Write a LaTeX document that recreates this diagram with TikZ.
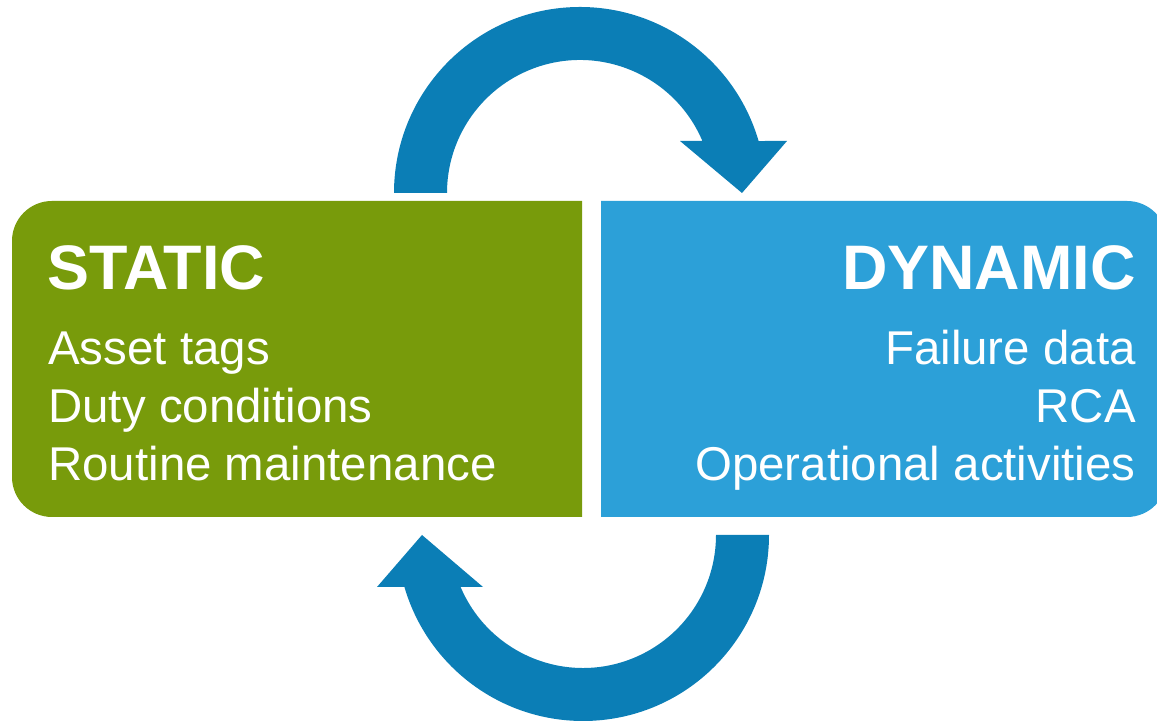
\documentclass[tikz,border=0pt]{standalone}
\usepackage{fontspec}
\setmainfont{Liberation Sans}
\usepackage{tikz}
\definecolor{staticgreen}{RGB}{120,155,11}
\definecolor{dynamicblue}{RGB}{44,160,216}
\definecolor{cycleblue}{RGB}{11,126,182}
\tikzset{
	title/.style={text=white, inner sep=0pt, font=\bfseries\fontsize{35.8}{41}\selectfont},
	item/.style={text=white, inner sep=0pt, font=\fontsize{27}{33}\selectfont}
}

\begin{document}
\begin{tikzpicture}[x=0.02cm, y=0.02cm]
	\def\outerR{186}
	\def\innerR{133}
	\clip (0, 0) rectangle (1157, 722);
	\useasboundingbox (0, 0) rectangle (1157, 722);
	% boxes
	\fill[staticgreen] (582, 205) [rounded corners=0.8cm] -- (12, 205) -- (12, 521)
		[sharp corners] -- (582, 521) -- cycle;
	\fill[dynamicblue] (601, 521) [rounded corners=0.8cm] -- (1167, 521) -- (1167, 205)
		[sharp corners] -- (601, 205) -- cycle;
	% upper arrow
	\fill[cycleblue] (394, 529) arc[start angle=180, end angle=16.23, radius=\outerR]
		-- (787, 581) -- (742, 529) -- (680, 581) -- (702.4, 581)
		arc[start angle=23.02, end angle=180, radius=\innerR] -- cycle;
	% lower arrow
	\fill[cycleblue] (769, 187) arc[start angle=0, end angle=-163.77, radius=\outerR]
		-- (377, 135) -- (422, 187) -- (483, 135) -- (460.6, 135)
		arc[start angle=-156.98, end angle=0, radius=\innerR] -- cycle;
	% texts
	\node[title, anchor=base west] (static) at (47, 432) {STATIC};
	\node[item, anchor=base west] (tags) at (48, 357) {Asset tags};
	\node[item, anchor=base west] (duty) at (48, 299) {Duty conditions};
	\node[item, anchor=base west] (routine) at (48, 241) {Routine maintenance};
	\node[title, anchor=base east] (dynamic) at (1136, 432) {DYNAMIC};
	\node[item, anchor=base east] (failure) at (1136, 357) {Failure data};
	\node[item, anchor=base east] (rca) at (1136, 299) {RCA};
	\node[item, anchor=base east] (operational) at (1136, 241) {Operational activities};
\end{tikzpicture}
\end{document}
